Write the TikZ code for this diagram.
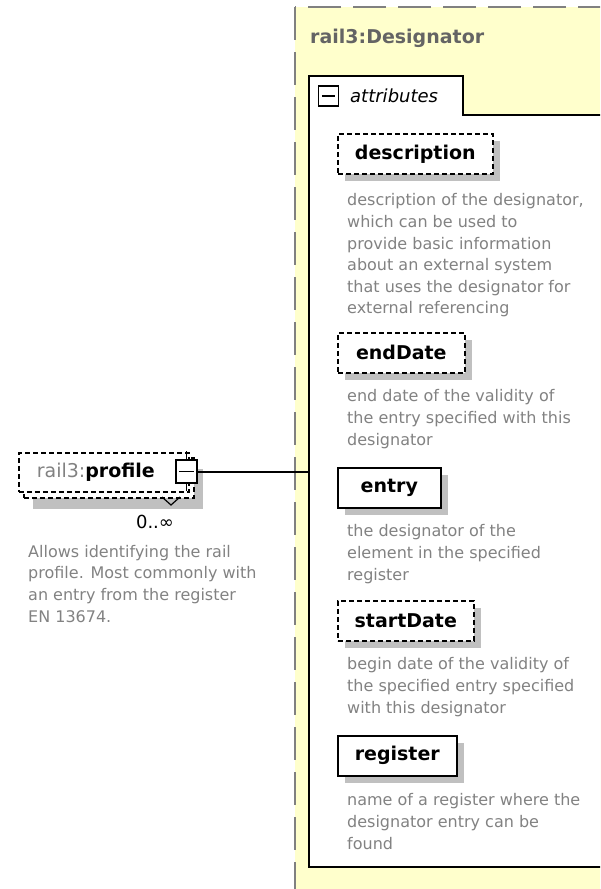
\documentclass[tikz,border=0pt]{standalone}
\usepackage{fontspec}
\setmainfont{DejaVu Sans}
\usepackage{tikz}
\usetikzlibrary{positioning,shadows}

\definecolor{typeyellow}{RGB}{255,255,204}
\definecolor{annogray}{RGB}{130,130,130}
\definecolor{titlegray}{RGB}{100,100,100}
\definecolor{framegray}{RGB}{128,128,128}
\definecolor{shadegray}{RGB}{192,192,192}

\newcommand{\labelfont}{\fontsize{19}{23}\selectfont\bfseries}
\newcommand{\annofont}{\fontsize{16}{21.6}\selectfont}

\tikzset{
  typeframe/.style={draw=framegray, line width=2pt, dash pattern=on 33pt off 12pt, fill=typeyellow},
  groupbox/.style={draw=black, line width=2pt, fill=white},
  elem/.style={draw=black, line width=1.6pt, fill=white, anchor=north west, inner sep=0pt,
    minimum width=#1, minimum height=40pt, font=\labelfont,
    drop shadow={shadow xshift=7pt, shadow yshift=-7pt, fill=shadegray, opacity=1}},
  optbox/.style={dash pattern=on 5pt off 3pt},
  anno/.style={anchor=north west, align=left, inner sep=0pt, text=annogray, font=\annofont},
  expander/.style={draw=black, line width=1.5pt, fill=white, inner sep=0pt},
}

\begin{document}
\begin{tikzpicture}[x=1pt, y=-1pt]
    \useasboundingbox (0,0) rectangle (600,889);
    \clip (0,0) rectangle (600,889);

    % the complex type
    \draw[typeframe] (295,7) rectangle (640,900);
    \node[anchor=west, inner sep=0pt, font=\labelfont, text=titlegray] (title) at (310,38) {rail3:Designator};

    % attributes group
    \draw[groupbox] (309,867) -- (309,76) -- (463,76) -- (463,115) -- (640,115) -- (640,867) -- cycle;
    \coordinate (attrleft) at (309,0);
    \node[expander, minimum size=20pt] (attrsym) at (328.5,96) {};
    \draw[line width=1.5pt] ([xshift=4pt]attrsym.west) -- ([xshift=-4pt]attrsym.east);
    \node[anchor=west, inner sep=0pt, font=\fontsize{18}{22}\selectfont\itshape] (attrs) at (350,96) {attributes};

    \node[elem=155pt, optbox] (description) at (337,133) {description};
    \node[anno, below right=19pt and 10pt of description.south west] (descriptiontext)
      {description of the designator,\\which can be used to\\provide basic information\\about an external system\\that uses the designator for\\external referencing};

    \node[elem=127pt, optbox] (endDate) at (337,332) {endDate};
    \node[anno, below right=16pt and 10pt of endDate.south west] (endDatetext)
      {end date of the validity of\\the entry specified with this\\designator};

    \node[elem=103pt] (entry) at (337,467) {entry};
    \node[anno, below right=16pt and 10pt of entry.south west] (entrytext)
      {the designator of the\\element in the specified\\register};

    \node[elem=136pt, optbox] (startDate) at (337,600) {startDate};
    \node[anno, below right=16pt and 10pt of startDate.south west] (startDatetext)
      {begin date of the validity of\\the specified entry specified\\with this designator};

    \node[elem=119pt] (register) at (337,735) {register};
    \node[anno, below right=17pt and 10pt of register.south west] (registertext)
      {name of a register where the\\designator entry can be\\found};

    % the profile element
    \node[draw=black, line width=1.6pt, optbox, fill=white, anchor=north west, minimum width=170pt, minimum height=40pt,
      drop shadow={shadow xshift=9pt, shadow yshift=-11pt, fill=shadegray, opacity=1}] (profileback) at (23,457) {};
    \node[draw=black, line width=1.6pt, optbox, fill=white, anchor=north west, minimum width=170pt, minimum height=39pt,
      font=\labelfont, inner sep=0pt] (profile) at (18,452) {\textcolor{annogray}{\mdseries rail3:}profile\hspace*{16pt}};
    \draw[line width=1.2pt] (162,497) -- (171,505) -- (180,497);
    \node[expander, minimum width=21pt, minimum height=23pt] (profilesym) at (186.5,471.5) {};
    \draw[line width=1.5pt] ([xshift=4pt]profilesym.west) -- ([xshift=-4pt]profilesym.east);
    \draw[line width=1.5pt] (profilesym.north) -- ++(0,-8);
    \draw[line width=1.5pt] (profilesym.south) -- ++(0,7);
    \node[inner sep=0pt, font=\fontsize{18}{20}\selectfont] (profilemult) at (155,522) {0..∞};
    \node[anno] (profiletext) at (28,545)
      {Allows identifying the rail\\profile. Most commonly with\\an entry from the register\\EN 13674.};

    \draw[line width=2pt] (profilesym.east) -- (profilesym.east -| attrleft);
\end{tikzpicture}
\end{document}
